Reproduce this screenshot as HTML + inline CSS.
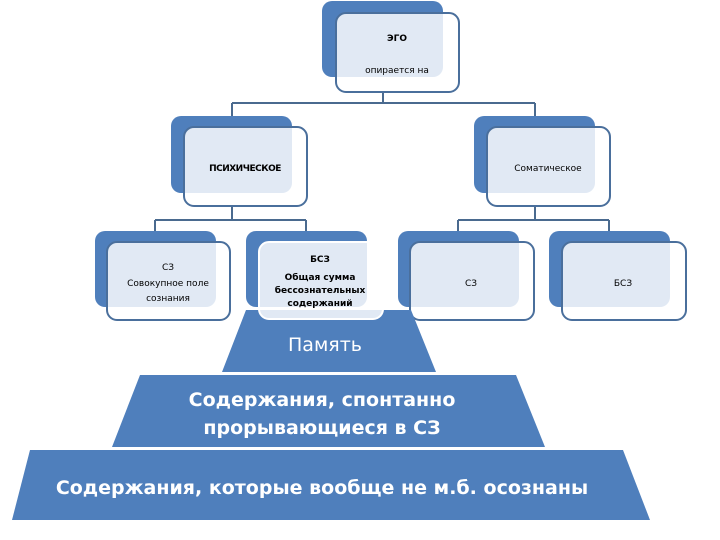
<!DOCTYPE html>
<html><head><meta charset="utf-8"><style>
html,body{margin:0;padding:0;background:#fff;width:720px;height:540px;overflow:hidden}
svg text{font-family:"DejaVu Sans","Liberation Sans",sans-serif}
</style></head><body>
<svg width="720" height="540" viewBox="0 0 720 540" xmlns="http://www.w3.org/2000/svg">
<g stroke="#4a6a8f" stroke-width="2" fill="none">
<path d="M383 92 V103 M232 103 H535 M232 103 V116 M535 103 V116"/>
<path d="M232 206 V220 M155 220 H306 M155 220 V231 M306 220 V231"/>
<path d="M535 206 V220 M458 220 H609 M458 220 V231 M609 220 V231"/>
</g>
<g>
<!-- node template: blue back, translucent front -->
<rect x="322" y="1" width="121" height="76" rx="10" fill="#4f7fbc"/>
<rect x="336" y="13" width="123" height="79" rx="10" fill="#fff" fill-opacity="0.83" stroke="#4a6f9c" stroke-width="2"/>
<rect x="171" y="116" width="121" height="77" rx="10" fill="#4f7fbc"/>
<rect x="184" y="127" width="123" height="79" rx="10" fill="#fff" fill-opacity="0.83" stroke="#4a6f9c" stroke-width="2"/>
<rect x="474" y="116" width="121" height="77" rx="10" fill="#4f7fbc"/>
<rect x="487" y="127" width="123" height="79" rx="10" fill="#fff" fill-opacity="0.83" stroke="#4a6f9c" stroke-width="2"/>
<rect x="95" y="231" width="121" height="76" rx="10" fill="#4f7fbc"/>
<rect x="107" y="242" width="123" height="78" rx="10" fill="#fff" fill-opacity="0.83" stroke="#4a6f9c" stroke-width="2"/>
<rect x="398" y="231" width="121" height="76" rx="10" fill="#4f7fbc"/>
<rect x="410" y="242" width="124" height="78" rx="10" fill="#fff" fill-opacity="0.83" stroke="#4a6f9c" stroke-width="2"/>
<rect x="549" y="231" width="121" height="76" rx="10" fill="#4f7fbc"/>
<rect x="562" y="242" width="124" height="78" rx="10" fill="#fff" fill-opacity="0.83" stroke="#4a6f9c" stroke-width="2"/>
</g>
<!-- pyramid -->
<polygon points="246,310 411,310 436,372 222,372" fill="#4f7fbc"/>
<polygon points="140,375 516,375 545,447 112,447" fill="#4f7fbc"/>
<polygon points="30,450 623,450 650,520 12,520" fill="#4f7fbc"/>
<rect x="246" y="231" width="121" height="76" rx="10" fill="#4f7fbc"/>
<rect x="259" y="242" width="124" height="77" rx="10" fill="#fff" fill-opacity="0.83" stroke="#fff" stroke-width="2"/>
<g font-size="9" fill="#000" text-anchor="middle">
<text x="397" y="41" font-weight="bold">ЭГО</text>
<text x="397" y="73">опирается на</text>
<text x="245" y="171" font-weight="bold" letter-spacing="-0.5">ПСИХИЧЕСКОЕ</text>
<text x="548" y="171">Соматическое</text>
<text x="168" y="270">СЗ</text>
<text x="168" y="286">Совокупное поле</text>
<text x="168" y="301">сознания</text>
<text x="320" y="262" font-weight="bold">БСЗ</text>
<text x="320" y="280" font-weight="bold">Общая сумма</text>
<text x="320" y="293" font-weight="bold">бессознательных</text>
<text x="320" y="306" font-weight="bold">содержаний</text>
<text x="471" y="286">СЗ</text>
<text x="623" y="286">БСЗ</text>
</g>
<g fill="#fff" text-anchor="middle" font-size="19">
<text x="325" y="351">Память</text>
<g font-weight="bold" font-size="19">
<text x="322" y="406">Содержания, спонтанно</text>
<text x="322" y="434">прорывающиеся в СЗ</text>
<text x="322" y="494">Содержания, которые вообще не м.б. осознаны</text>
</g>
</g>
</svg>
</body></html>
